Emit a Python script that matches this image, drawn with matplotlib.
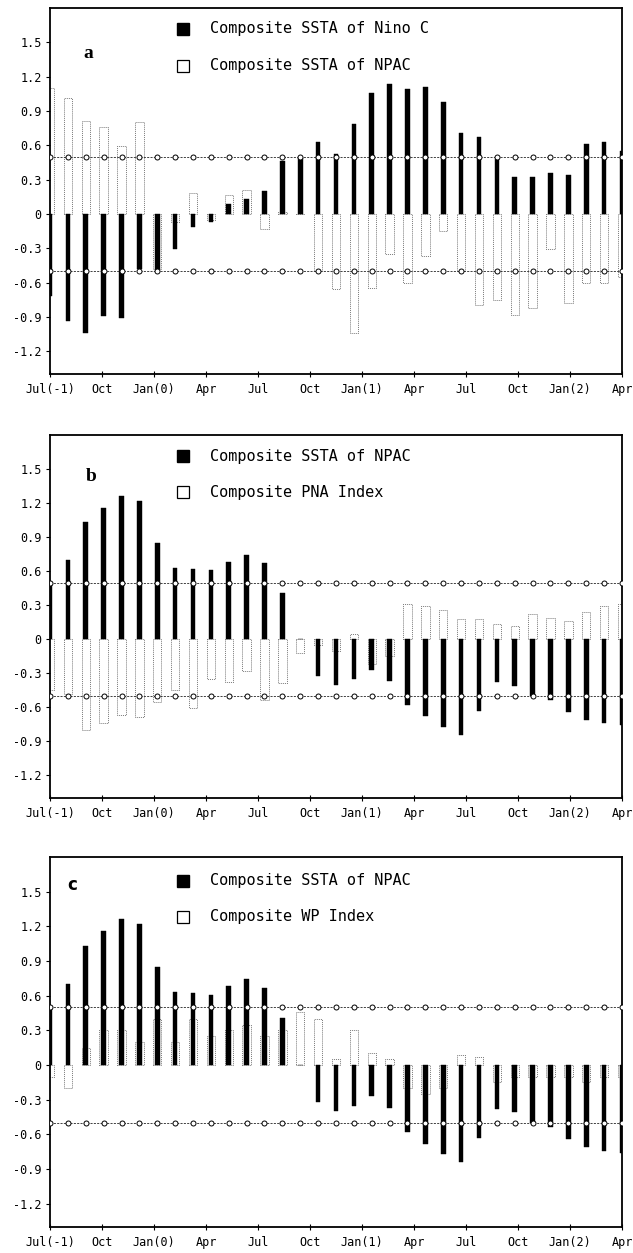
import numpy as np
import matplotlib
matplotlib.use("Agg")
import matplotlib.pyplot as plt

# ---- axis labels -------------------------------------------------------
month_labels = ["Jul(-1)", "Oct", "Jan(0)", "Apr", "Jul", "Oct", "Jan(1)",
                "Apr", "Jul", "Oct", "Jan(2)", "Apr"]
y_ticks = [1.5, 1.2, 0.9, 0.6, 0.3, 0.0, -0.3, -0.6, -0.9, -1.2]
y_tick_labels = ["1.5", "1.2", "0.9", "0.6", "0.3", "0",
                 "-0.3", "-0.6", "-0.9", "-1.2"]

# ---- composite series, monthly from Jul(-1) -----------------------------
ninoc_ssta = [-0.72, -0.94, -1.04, -0.89, -0.91, -0.48, -0.49, -0.31, -0.11,
              -0.07, 0.09, 0.13, 0.20, 0.46, 0.49, 0.63, 0.52, 0.79, 1.06,
              1.14, 1.09, 1.11, 0.98, 0.71, 0.67, 0.48, 0.32, 0.32, 0.36,
              0.34, 0.61, 0.63, 0.55]

npac_ssta_ninoc = [1.10, 1.01, 0.81, 0.76, 0.59, 0.80, -0.48, -0.07, 0.18,
                   -0.05, 0.17, 0.21, -0.13, 0.02, 0.00, -0.50, -0.66, -1.04,
                   -0.65, -0.35, -0.60, -0.37, -0.15, -0.50, -0.80, -0.75,
                   -0.88, -0.82, -0.31, -0.78, -0.60, -0.60, -0.55]

npac_ssta = [0.50, 0.70, 1.03, 1.16, 1.26, 1.22, 0.85, 0.63, 0.62, 0.61,
             0.68, 0.74, 0.67, 0.41, 0.00, -0.32, -0.40, -0.35, -0.27, -0.37,
             -0.58, -0.68, -0.77, -0.84, -0.63, -0.38, -0.41, -0.50, -0.54,
             -0.64, -0.71, -0.74, -0.76]

pna_index = [-0.45, -0.48, -0.80, -0.74, -0.67, -0.69, -0.55, -0.45, -0.61,
             -0.35, -0.38, -0.28, -0.54, -0.39, -0.12, -0.05, -0.10, 0.05,
             -0.22, -0.15, 0.31, 0.29, 0.26, 0.18, 0.18, 0.13, 0.12, 0.22,
             0.19, 0.16, 0.24, 0.29, 0.31]

wp_index = [-0.10, -0.20, 0.15, 0.30, 0.30, 0.20, 0.40, 0.20, 0.40, 0.25,
            0.30, 0.35, 0.25, 0.30, 0.46, 0.40, 0.05, 0.30, 0.10, 0.05,
            -0.20, -0.25, -0.20, 0.09, 0.07, -0.15, -0.10, -0.10, -0.10,
            -0.10, -0.15, -0.10, -0.10]

threshold = 0.5

panels = [
    ("a", ninoc_ssta, npac_ssta_ninoc,
     "Composite SSTA of Nino C", "Composite SSTA of NPAC"),
    ("b", npac_ssta, pna_index,
     "Composite SSTA of NPAC", "Composite PNA Index"),
    ("c", npac_ssta, wp_index,
     "Composite SSTA of NPAC", "Composite WP Index"),
]

# axes rectangles (left, bottom, width, height) in figure fractions
rects = [
    (0.079, 0.7015, 0.9036, 0.2920),
    (0.079, 0.3631, 0.9036, 0.2897),
    (0.079, 0.0208, 0.9036, 0.2953),
]
label_pos = [(0.058, 0.875), (0.063, 0.885), (0.030, 0.925)]
legend_rows = [(0.943, 0.842), (0.942, 0.843), (0.935, 0.838)]

fig = plt.figure(figsize=(6.33, 12.53), dpi=100)

n_months = 3 * (len(month_labels) - 1)

for (tag, filled, hollow, lab1, lab2), rect, lpos, rows in zip(
        panels, rects, label_pos, legend_rows):
    ax = fig.add_axes(rect)
    n = len(filled)
    x = np.linspace(0, n_months, n)

    # hollow (dotted outline) bars behind the filled ones
    ax.bar(x, hollow, width=0.48, facecolor="none", edgecolor="#7a7a7a",
           linewidth=0.7, linestyle=(0, (1, 1)), zorder=2)
    ax.bar(x, filled, width=0.27, color="black", edgecolor="black",
           linewidth=0.3, zorder=3)

    # +/- threshold reference lines with open circles at each month
    for level in (threshold, -threshold):
        ax.plot(x, np.full(n, level), linestyle=(0, (2.5, 1.5)),
                color="#222222", linewidth=0.6, marker="o", markersize=3.6,
                markerfacecolor="white", markeredgecolor="black",
                markeredgewidth=0.7, zorder=4)

    ax.set_xlim(0, n_months)
    ax.set_ylim(-1.4, 1.8)
    ax.set_xticks(np.arange(0, n_months + 1, 3))
    ax.set_xticklabels(month_labels, fontsize=8.5, family="DejaVu Sans Mono")
    ax.set_yticks(y_ticks)
    ax.set_yticklabels(y_tick_labels, fontsize=8.5, family="DejaVu Sans Mono")
    ax.tick_params(axis="y", direction="out", length=3, width=0.8, pad=3)
    ax.tick_params(axis="x", direction="inout", length=5, width=0.8, pad=4)
    for sp in ax.spines.values():
        sp.set_linewidth(1.3)

    # panel letter
    if tag == "c":
        ax.text(lpos[0], lpos[1], tag, transform=ax.transAxes,
                fontsize=12, fontweight="bold", family="DejaVu Sans",
                va="center", ha="left")
    else:
        ax.text(lpos[0], lpos[1], tag, transform=ax.transAxes,
                fontsize=14, fontweight="bold", family="Liberation Serif",
                va="center", ha="left")

    # legend: square symbols followed by their captions
    ax.plot([0.2325], [rows[0]], transform=ax.transAxes, marker="s",
            markersize=8, color="black", clip_on=False, zorder=5)
    ax.plot([0.2325], [rows[1]], transform=ax.transAxes, marker="s",
            markersize=8, markerfacecolor="white", markeredgecolor="black",
            markeredgewidth=0.9, clip_on=False, zorder=5)
    ax.text(0.28, rows[0], lab1, transform=ax.transAxes, fontsize=11,
            family="DejaVu Sans Mono", va="center", ha="left")
    ax.text(0.28, rows[1], lab2, transform=ax.transAxes, fontsize=11,
            family="DejaVu Sans Mono", va="center", ha="left")

fig.savefig("out.png", dpi=100)
